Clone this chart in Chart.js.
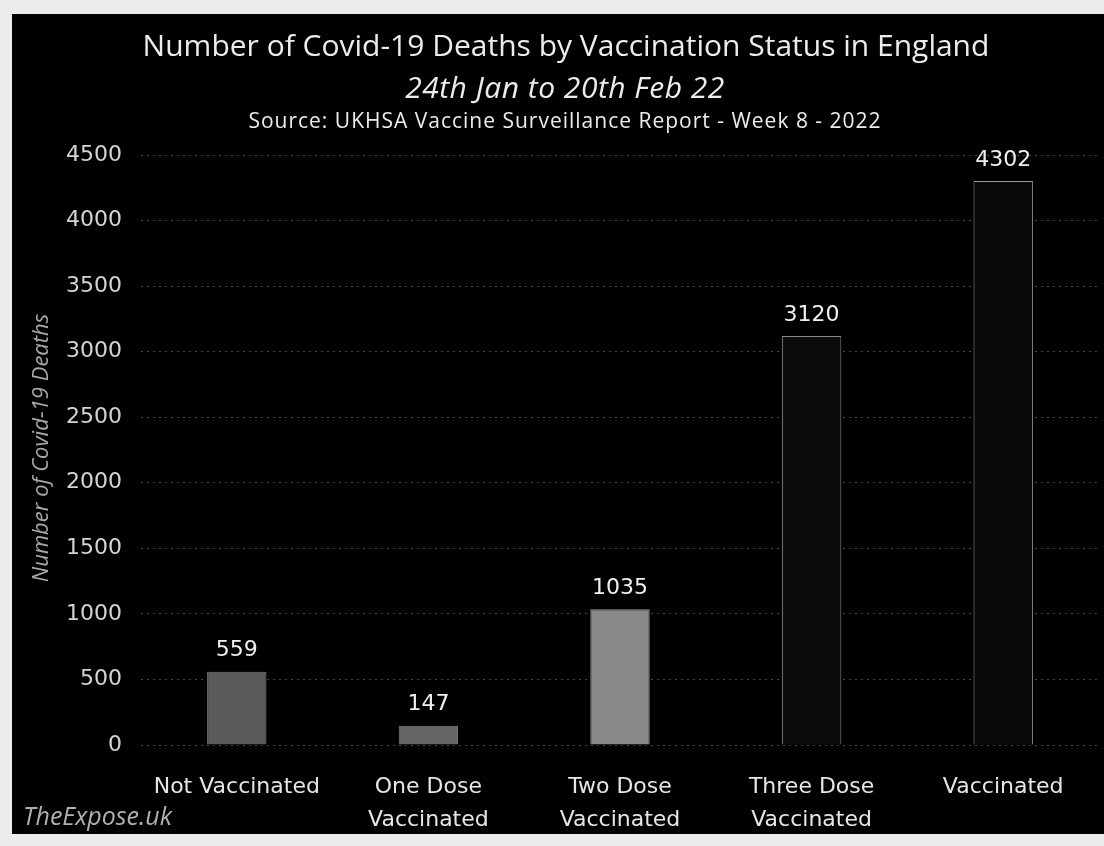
<!DOCTYPE html>
<html>
<head>
<meta charset="utf-8">
<script src="https://cdn.jsdelivr.net/npm/chart.js@4"></script>
<style>
  html, body { margin: 0; padding: 0; background: #ececec; }
  body { width: 1104px; height: 846px; position: relative; overflow: hidden; }
  #frame { position: absolute; left: 12px; top: 14px; width: 1092px; height: 820px; background: #000; }
  #chart { display: block; }
</style>
</head>
<body>
<div id="frame"><canvas id="chart" width="1092" height="820"></canvas></div>
<script>
// Covid-19 deaths by vaccination status, England, 24 Jan - 20 Feb 2022
const categories = [
  ["Not Vaccinated"],
  ["One Dose", "Vaccinated"],
  ["Two Dose", "Vaccinated"],
  ["Three Dose", "Vaccinated"],
  ["Vaccinated"]
];
const deaths = [559, 147, 1035, 3120, 4302];
const yTicks = [0, 500, 1000, 1500, 2000, 2500, 3000, 3500, 4000, 4500];

const titleText = "Number of Covid-19 Deaths by Vaccination Status in England";
const periodText = "24th Jan to 20th Feb 22";
const sourceText = "Source: UKHSA Vaccine Surveillance Report - Week 8 - 2022";
const yAxisTitle = "Number of Covid-19 Deaths";
const creditText = "TheExpose.uk";

const barFills = ["#5a5a5a", "#666666", "#8a8a8a", "#0c0c0c", "#080808"];
const barEdges = ["#7a7a7a", "#808080", "#9a9a9a", "#8a8a8a", "#9a9a9a"];

function spaced(ctx, px) {
  if ("letterSpacing" in ctx) ctx.letterSpacing = px + "px";
}

// Header lines, rotated axis title, credit and value labels
const annotations = {
  id: "annotations",
  afterDraw(chart) {
    const ctx = chart.ctx;
    ctx.save();
    ctx.textAlign = "center";
    ctx.textBaseline = "alphabetic";
    ctx.fillStyle = "#ececec";
    ctx.font = "30px 'Open Sans', sans-serif";
    ctx.fillText(titleText, 554, 42);
    ctx.font = "italic 30px 'Open Sans', sans-serif";
    spaced(ctx, 0.5);
    ctx.fillText(periodText, 553, 84);
    ctx.font = "21px 'Open Sans', sans-serif";
    spaced(ctx, 1);
    ctx.fillText(sourceText, 553, 114);
    spaced(ctx, 0);

    ctx.fillStyle = "#a8a8a8";
    ctx.font = "italic 22px 'Open Sans', sans-serif";
    ctx.textBaseline = "middle";
    ctx.translate(30, 434);
    ctx.rotate(-Math.PI / 2);
    ctx.fillText(yAxisTitle, 0, 0);
    ctx.restore();

    ctx.save();
    ctx.fillStyle = "#b0b0b0";
    ctx.font = "italic 25px 'Open Sans', sans-serif";
    ctx.textAlign = "left";
    ctx.textBaseline = "alphabetic";
    ctx.fillText(creditText, 11, 811);

    const meta = chart.getDatasetMeta(0);
    ctx.fillStyle = "#f0f0f0";
    ctx.font = "22px 'DejaVu Sans', sans-serif";
    ctx.textAlign = "center";
    ctx.textBaseline = "middle";
    meta.data.forEach((bar, i) => {
      ctx.fillText(String(deaths[i]), bar.x, bar.y - 21);
    });
    ctx.restore();
  }
};

new Chart(document.getElementById("chart"), {
  type: "bar",
  data: {
    labels: categories,
    datasets: [{
      data: deaths,
      backgroundColor: barFills,
      borderColor: barEdges,
      borderWidth: 1,
      barPercentage: 0.31,
      categoryPercentage: 1
    }]
  },
  options: {
    responsive: false,
    animation: false,
    layout: { padding: { top: 141, right: 5, left: 0, bottom: 0 } },
    plugins: {
      legend: { display: false },
      title: { display: false },
      tooltip: { enabled: false }
    },
    scales: {
      x: {
        afterFit(scale) { scale.height = 89; },
        grid: { display: false, drawTicks: false },
        border: { display: false },
        ticks: {
          color: "#e6e6e6",
          font: { family: "'DejaVu Sans', sans-serif", size: 22, lineHeight: 1.5 },
          padding: 26,
          maxRotation: 0,
          autoSkip: false
        }
      },
      y: {
        min: 0,
        max: 4500,
        afterFit(scale) { scale.width = 129; },
        afterBuildTicks(scale) { scale.ticks = yTicks.map(v => ({ value: v })); },
        grid: { color: "#474747", drawTicks: false },
        border: { display: false, dash: [2, 4] },
        ticks: {
          color: "#d4d4d4",
          font: { family: "'DejaVu Sans', sans-serif", size: 22 },
          padding: 19,
          callback: (value) => String(value)
        }
      }
    }
  },
  plugins: [annotations]
});
</script>
</body>
</html>
